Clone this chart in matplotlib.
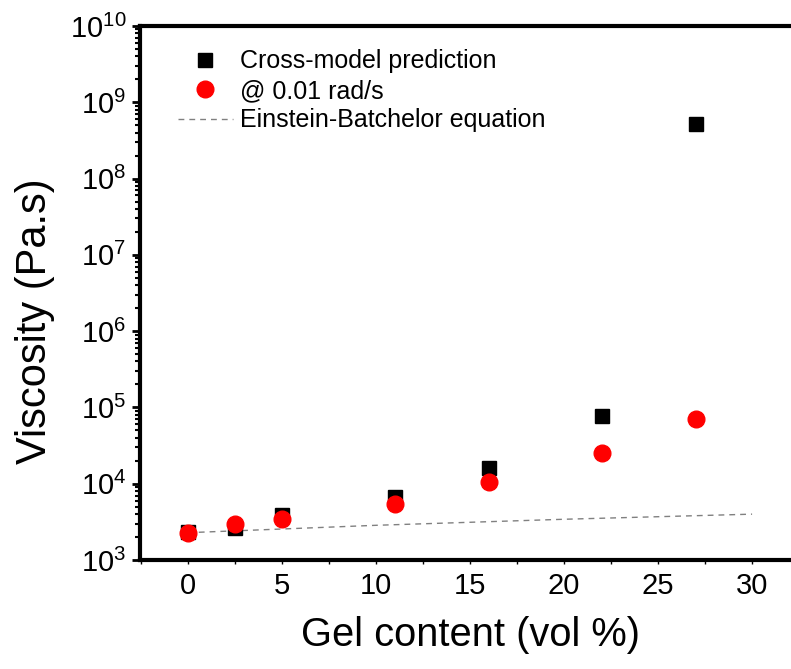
import matplotlib
matplotlib.use("Agg")
import matplotlib.pyplot as plt
from matplotlib.ticker import MultipleLocator, LogLocator, NullFormatter

plt.rcParams['font.family'] = ['Liberation Sans', 'DejaVu Sans']
plt.rcParams['mathtext.fontset'] = 'custom'
plt.rcParams['mathtext.rm'] = 'Liberation Sans'
plt.rcParams['mathtext.it'] = 'Liberation Sans:italic'
plt.rcParams['mathtext.bf'] = 'Liberation Sans:bold'

# Data
gel_content = [0, 2.5, 5, 11, 16, 22, 27]
cross_model = [2350, 2650, 3900, 6600, 16300, 78000, 5.2e8]
low_freq = [2230, 2960, 3400, 5450, 10400, 25000, 71000]
eb_x = [0, 10, 20, 30]
eb_y = [2280, 2850, 3420, 3990]

fig = plt.figure(figsize=(7.91, 6.69), dpi=100)
L, B, T = 140 / 791, 1 - 560 / 669, 1 - 26 / 669
ax = fig.add_axes([L, B, 1.0 - L, T - B])

ax.plot(gel_content, cross_model, 's', color='black', markersize=10,
        label='Cross-model prediction', zorder=3)
ax.plot(gel_content, low_freq, 'o', color='red', markersize=12,
        label='@ 0.01 rad/s', zorder=4)
ax.plot(eb_x, eb_y, '--', color='gray', linewidth=1, dashes=(4.2, 3.6),
        label='Einstein-Batchelor equation', zorder=2)

ax.set_yscale('log')
ax.set_ylim(1e3, 1e10)
ax.set_xlim(-2.55, 32.07)
ax.xaxis.set_major_locator(MultipleLocator(5))
ax.xaxis.set_minor_locator(MultipleLocator(2.5))
ax.yaxis.set_major_locator(LogLocator(base=10, numticks=20))
ax.yaxis.set_minor_locator(LogLocator(base=10, subs=range(2, 10), numticks=100))
ax.yaxis.set_minor_formatter(NullFormatter())

ax.spines['right'].set_visible(False)
for s in ['left', 'bottom', 'top']:
    ax.spines[s].set_linewidth(3)

ax.tick_params(axis='y', which='major', direction='out', length=6, width=2, labelsize=21, pad=4)
ax.tick_params(axis='y', which='minor', direction='out', length=3.5, width=1.5)
ax.tick_params(axis='x', which='both', direction='out', length=3, width=1, labelsize=21, pad=6)

ax.set_xlabel('Gel content (vol %)', fontsize=28.7, labelpad=11)
ax.xaxis.label.set_x(0.507)
ax.set_ylabel('Viscosity (Pa.s)', fontsize=30)
ax.yaxis.set_label_coords(-0.13, 0.448)

ax.legend(loc='upper left', bbox_to_anchor=(0.043, 0.975), borderaxespad=0,
          frameon=False, fontsize=18, handlelength=2.2, handletextpad=0.3,
          labelspacing=0.22, numpoints=1)

fig.savefig('out.png', dpi=100)
